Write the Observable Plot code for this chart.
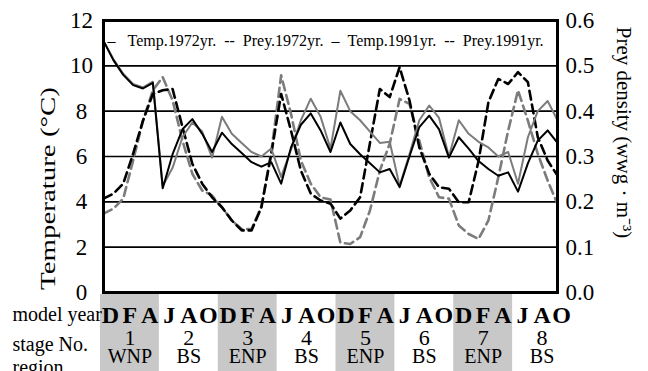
<!DOCTYPE html>
<html><head><meta charset="utf-8">
<script src="https://cdn.jsdelivr.net/npm/d3@7"></script>
<script src="https://cdn.jsdelivr.net/npm/@observablehq/plot@0.6"></script>
<style>
html,body{margin:0;padding:0;background:#fff;}
#wrap{position:relative;width:648px;height:371px;overflow:hidden;}
#wrap svg{position:absolute;left:0;top:0;}
#wrap svg, #wrap svg text{font-family:"Liberation Serif","Times New Roman",Times,serif;}
</style></head><body><div id="wrap"></div>
<script>
// month index 0..46 (December of model year 1 to October of model year 4)
const months = d3.range(47);
const temp1972 = [11.1,10.25,9.6,9.15,9.0,9.25,4.6,6.1,7.2,7.65,7.0,6.2,7.05,6.55,6.15,5.75,5.55,5.75,4.8,6.4,7.4,7.9,7.15,6.2,7.5,6.55,6.1,5.7,5.3,5.45,4.65,6.0,7.3,7.8,7.2,5.95,6.85,6.35,5.8,5.45,5.15,5.3,4.45,5.7,6.7,7.15,6.6];
const prey1972 = [0.207,0.218,0.24,0.306,0.379,0.438,0.446,0.449,0.365,0.284,0.24,0.21,0.188,0.159,0.137,0.137,0.188,0.306,0.438,0.357,0.269,0.218,0.203,0.196,0.163,0.181,0.21,0.33,0.449,0.431,0.497,0.424,0.32,0.262,0.232,0.229,0.199,0.199,0.29,0.42,0.471,0.46,0.486,0.464,0.343,0.291,0.258];
const temp1991 = [11.1,10.3,9.65,9.2,9.05,9.3,4.7,5.5,6.85,7.5,7.1,5.95,7.75,7.0,6.6,6.2,6.0,6.35,5.1,6.3,7.6,8.55,7.75,6.35,8.9,8.0,7.6,7.1,6.6,6.65,4.7,6.1,7.6,8.25,7.7,6.0,7.6,7.0,6.65,6.4,6.0,6.2,4.8,6.85,8.0,8.45,7.6];
const prey1991 = [0.174,0.185,0.207,0.291,0.379,0.446,0.475,0.424,0.335,0.262,0.225,0.214,0.188,0.159,0.14,0.14,0.19,0.31,0.479,0.394,0.291,0.24,0.21,0.205,0.11,0.107,0.122,0.181,0.269,0.328,0.427,0.416,0.335,0.254,0.21,0.207,0.148,0.129,0.118,0.159,0.254,0.357,0.446,0.379,0.306,0.247,0.195];

const tempTicks = [0,2,4,6,8,10,12];
const preyTicks = [0,0.1,0.2,0.3,0.4,0.5,0.6];
const monthLetters = ["D","F","A","J","A","O","D","F","A","J","A","O","D","F","A","J","A","O","D","F","A","J","A","O"];
const stageNos = [1,2,3,4,5,6,7,8];
const regions = ["WNP","BS","ENP","BS","ENP","BS","ENP","BS"];
const shadedStages = [1,3,5,7];
const rowLabels = ["model year","stage No.","region"];
const SP = "\u00a0";
const legendText = "\u2013" + SP.repeat(3) + "Temp.1972yr." + SP.repeat(2) + "--" + SP.repeat(2) + "Prey.1972yr." + SP.repeat(2) +
  "\u2013" + SP.repeat(2) + "Temp.1991yr." + SP.repeat(2) + "--" + SP.repeat(2) + "Prey.1991yr.";
const yLabelLeft = "Temperature (\u00b0C)";
const yLabelRight = "Prey density (wwg \u00b7 m\u207b\u00b3)";

const FONT = "Liberation Serif, Times New Roman, Times, serif";
const k = tempTicks[tempTicks.length-1] / preyTicks[preyTicks.length-1];
const rows = months.map((m,i)=>({m, t72: temp1972[i], p72: prey1972[i], t91: temp1991[i], p91: prey1991[i]}));
const GRAY = "#7c7c7c";

const main = Plot.plot({
  width: 648, height: 371,
  marginLeft: 103, marginRight: 91, marginTop: 20, marginBottom: 79,
  x: {domain: [0, 46], axis: null},
  y: {domain: [0, 12], axis: null},
  style: {fontFamily: FONT, fontSize: "22px", background: "white", color: "black", overflow: "visible"},
  marks: [
    Plot.ruleY(tempTicks.filter(v => v > 0 && v < 12), {stroke: "black", strokeWidth: 1.6}),
    Plot.line(rows, {x: "m", y: d => d.p91 * k, stroke: GRAY, strokeWidth: 2.6, strokeDasharray: "9,5"}),
    Plot.line(rows, {x: "m", y: d => d.p72 * k, stroke: "black", strokeWidth: 2.6, strokeDasharray: "9,5"}),
    Plot.line(rows, {x: "m", y: "t91", stroke: GRAY, strokeWidth: 2}),
    Plot.line(rows, {x: "m", y: "t72", stroke: "black", strokeWidth: 2}),
    Plot.frame({stroke: "black", strokeWidth: 3}),
    Plot.text(tempTicks, {y: d => d, text: d => String(d), frameAnchor: "left", textAnchor: "middle", dx: -22, fontSize: 23, fontFamily: FONT}),
    Plot.text(preyTicks, {y: d => d * k, text: d => d.toFixed(1), frameAnchor: "right", textAnchor: "start", dx: 8, fontSize: 23, fontFamily: FONT}),
    Plot.text([yLabelLeft], {text: d => d, frameAnchor: "left", textAnchor: "middle", rotate: -90, dx: -55, dy: 32, fontSize: 21, fontFamily: FONT}),
    Plot.text([yLabelRight], {text: d => d, frameAnchor: "right", textAnchor: "middle", rotate: 90, dx: 66, dy: -24, fontSize: 21, fontFamily: FONT}),
    Plot.text([legendText], {text: d => d, frameAnchor: "top-left", textAnchor: "start", dx: 4, dy: 14.2, fontSize: 16, fontFamily: FONT})
  ]
});

const table = Plot.plot({
  width: 648, height: 371,
  marginLeft: 100, marginRight: 77, marginTop: 294, marginBottom: 0,
  x: {domain: [0, 8], axis: null},
  style: {fontFamily: FONT, fontSize: "20px", background: "transparent", color: "black", overflow: "visible"},
  marks: [
    Plot.rect(shadedStages, {x1: d => d - 1, x2: d => d, fill: "#c8c8c8"}),
    Plot.text(monthLetters, {x: (d, i) => (i + 0.5) / 3, text: d => d, frameAnchor: "top", dy: 11.5, fontSize: 24, fontWeight: "bold", fontFamily: FONT}),
    Plot.text(stageNos, {x: d => d - 0.5, text: d => String(d), frameAnchor: "top", dy: 35, fontSize: 22, fontFamily: FONT}),
    Plot.text(regions, {x: (d, i) => i + 0.5, text: d => d, frameAnchor: "top", dy: 54, fontSize: 20, fontFamily: FONT}),
    Plot.text([rowLabels[0]], {text: d => d, frameAnchor: "top-left", textAnchor: "start", dx: -88, dy: 12.6, fontSize: 20, fontFamily: FONT}),
    Plot.text([rowLabels[1]], {text: d => d, frameAnchor: "top-left", textAnchor: "start", dx: -88, dy: 42.6, fontSize: 20, fontFamily: FONT}),
    Plot.text([rowLabels[2]], {text: d => d, frameAnchor: "top-left", textAnchor: "start", dx: -88, dy: 65.1, fontSize: 20, fontFamily: FONT})
  ]
});

document.getElementById("wrap").appendChild(main);
document.getElementById("wrap").appendChild(table);
// the reference's rotated label is drawn elongated along its reading direction
d3.select(main).selectAll("text").filter(function(){ return this.textContent === yLabelLeft; })
  .attr("textLength", 203).attr("lengthAdjust", "spacingAndGlyphs");
</script>
</body></html>
